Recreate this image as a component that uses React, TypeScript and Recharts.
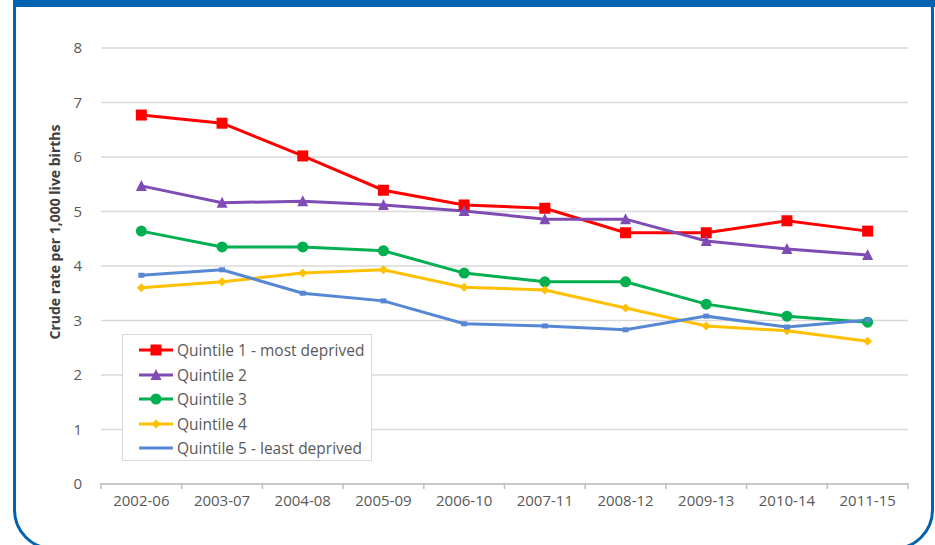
import React from "react";
import { LineChart, Line, XAxis, YAxis, CartesianGrid } from "recharts";

const periods = ["2002-06", "2003-07", "2004-08", "2005-09", "2006-10", "2007-11", "2008-12", "2009-13", "2010-14", "2011-15"];
const quintile1 = [6.77, 6.62, 6.02, 5.39, 5.12, 5.06, 4.61, 4.61, 4.83, 4.64];
const quintile2 = [5.47, 5.16, 5.19, 5.12, 5.01, 4.86, 4.86, 4.46, 4.31, 4.2];
const quintile3 = [4.64, 4.35, 4.35, 4.28, 3.87, 3.71, 3.71, 3.3, 3.08, 2.97];
const quintile4 = [3.6, 3.71, 3.87, 3.93, 3.61, 3.56, 3.23, 2.9, 2.81, 2.62];
const quintile5 = [3.83, 3.93, 3.5, 3.36, 2.94, 2.9, 2.83, 3.08, 2.88, 3.01];
const yTicks = [0, 1, 2, 3, 4, 5, 6, 7, 8];

const data = periods.map((p, i) => ({
  period: p,
  q1: quintile1[i],
  q2: quintile2[i],
  q3: quintile3[i],
  q4: quintile4[i],
  q5: quintile5[i],
}));

type Marker = "square" | "triangle" | "circle" | "diamond" | "dash";

const SERIES: { key: string; name: string; color: string; marker: Marker }[] = [
  { key: "q1", name: "Quintile 1 - most deprived", color: "#ff0000", marker: "square" },
  { key: "q2", name: "Quintile 2", color: "#7e4cb4", marker: "triangle" },
  { key: "q3", name: "Quintile 3", color: "#00b050", marker: "circle" },
  { key: "q4", name: "Quintile 4", color: "#ffc000", marker: "diamond" },
  { key: "q5", name: "Quintile 5 - least deprived", color: "#5587d4", marker: "dash" },
];

const FONT = "'Open Sans', 'Noto Sans', sans-serif";
const TEXT = "#595959";
const FRAME = "#0063b1";
const STEP = 80.7;

function drawMarker(marker: Marker, cx: number, cy: number, color: string, key?: string) {
  switch (marker) {
    case "square":
      return <rect key={key} x={cx - 5.5} y={cy - 5.5} width={11} height={11} fill={color} />;
    case "triangle":
      return <polygon key={key} points={`${cx},${cy - 6} ${cx + 5.5},${cy + 5} ${cx - 5.5},${cy + 5}`} fill={color} />;
    case "circle":
      return <circle key={key} cx={cx} cy={cy} r={5.5} fill={color} />;
    case "diamond":
      return <polygon key={key} points={`${cx},${cy - 4.5} ${cx + 4.5},${cy} ${cx},${cy + 4.5} ${cx - 4.5},${cy}`} fill={color} />;
    default:
      return <rect key={key} x={cx - 3} y={cy - 2.5} width={6} height={5} fill={color} />;
  }
}

const makeDot = (marker: Marker, color: string) => (props: any) => {
  const { cx, cy, index } = props;
  if (cx == null || cy == null) return <g key={`d-${index}`} />;
  return drawMarker(marker, cx, cy, color, `d-${index}`);
};

// tick marks sit on the category boundaries, labels in the middle
const XTick = (props: any) => {
  const { x, y, payload, index } = props;
  const top = y - 9;
  return (
    <g>
      <line x1={x - STEP / 2} y1={top} x2={x - STEP / 2} y2={top + 6} stroke="#bfbfbf" strokeWidth={1.5} />
      {index === periods.length - 1 && (
        <line x1={x + STEP / 2} y1={top} x2={x + STEP / 2} y2={top + 6} stroke="#bfbfbf" strokeWidth={1.5} />
      )}
      <text x={x} y={y + 14} textAnchor="middle" fill={TEXT} fontSize={15} fontFamily={FONT}>
        {payload.value}
      </text>
    </g>
  );
};

const LegendBox = () => (
  <div
    style={{
      position: "absolute",
      left: 122,
      top: 334,
      border: "1px solid #d9d9d9",
      background: "#fff",
      width: 250,
      height: 127,
      boxSizing: "border-box",
      paddingTop: 3,
      fontFamily: FONT,
      fontSize: 15.5,
      color: TEXT,
    }}
  >
    {SERIES.map((s) => (
      <div key={s.key} style={{ display: "flex", alignItems: "center", height: 24.5 }}>
        <svg width={54} height={16} style={{ flexShrink: 0 }}>
          <line x1={16} y1={8} x2={50} y2={8} stroke={s.color} strokeWidth={3} />
          {s.marker !== "dash" && drawMarker(s.marker, 33, 8, s.color)}
        </svg>
        <span style={{ whiteSpace: "nowrap" }}>{s.name}</span>
      </div>
    ))}
  </div>
);

export default function App() {
  return (
    <div style={{ position: "absolute", left: 0, top: 0, width: 935, height: 545, overflow: "hidden", background: "#fff" }}>
      <div style={{ position: "absolute", left: 13, top: 0, right: 0, height: 7, background: FRAME }} />
      <div
        style={{
          position: "absolute",
          left: 13,
          top: -30,
          width: 921,
          height: 580,
          border: `3px solid ${FRAME}`,
          borderRadius: 40,
          boxSizing: "border-box",
        }}
      />
      <div style={{ position: "absolute", left: 0, top: 0 }}>
        <LineChart width={935} height={545} data={data} margin={{ top: 48, right: 27, bottom: 0, left: 0 }}>
          <CartesianGrid vertical={false} stroke="#d9d9d9" strokeWidth={1.5} />
          <XAxis
            dataKey="period"
            padding={{ left: STEP / 2, right: STEP / 2 }}
            axisLine={{ stroke: "#bfbfbf", strokeWidth: 1.5 }}
            tickLine={false}
            tick={<XTick />}
            interval={0}
            height={61}
          />
          <YAxis
            domain={[0, 8]}
            ticks={yTicks}
            width={101}
            axisLine={false}
            tickLine={false}
            tickMargin={13}
            tick={{ fill: TEXT, fontSize: 15, fontFamily: FONT }}
            label={{
              value: "Crude rate per 1,000 live births",
              angle: -90,
              position: "insideLeft",
              dx: 50,
              dy: -34,
              style: { textAnchor: "middle", fill: "#404040", fontSize: 14, fontWeight: 700, fontFamily: FONT },
            }}
          />
          {SERIES.map((s) => (
            <Line
              key={s.key}
              dataKey={s.key}
              name={s.name}
              stroke={s.color}
              strokeWidth={3}
              dot={makeDot(s.marker, s.color)}
              activeDot={false}
              isAnimationActive={false}
            />
          ))}
        </LineChart>
      </div>
      <LegendBox />
    </div>
  );
}
